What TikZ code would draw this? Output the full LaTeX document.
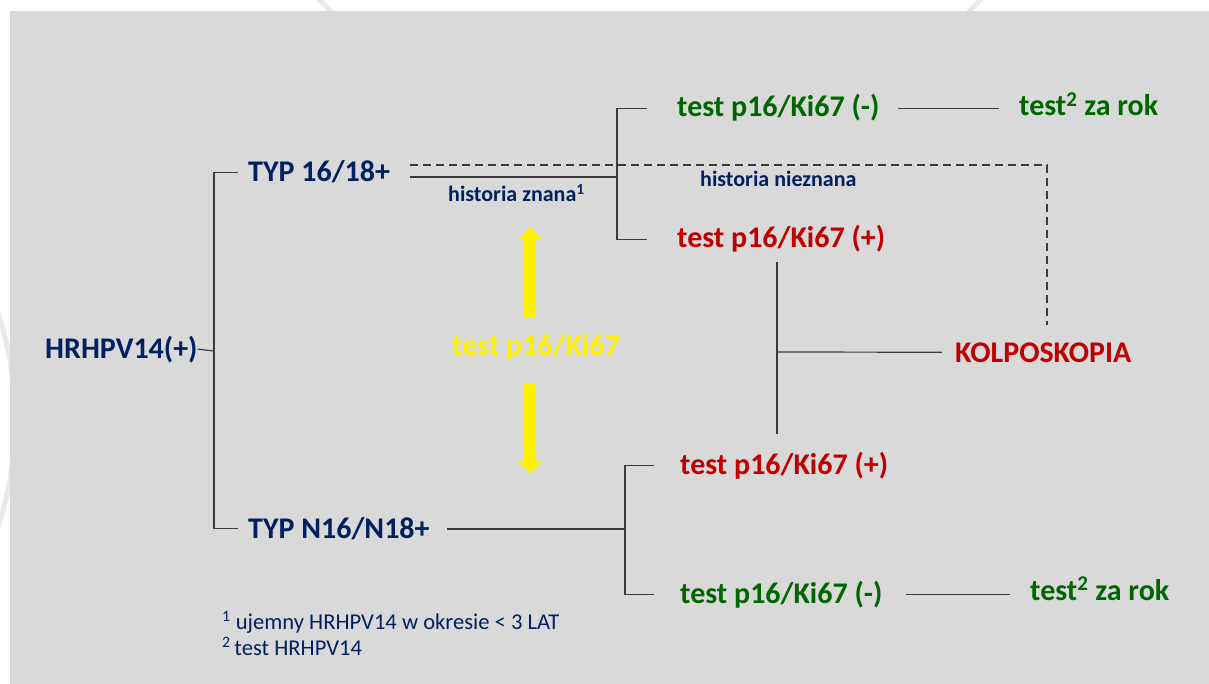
\documentclass[tikz,border=0pt]{standalone}
\usepackage{fontspec}
\setmainfont{Carlito}
\usetikzlibrary{positioning}
\definecolor{bggray}{HTML}{D9D9D9}
\definecolor{swirl}{HTML}{E6EAEF}
\definecolor{navy}{HTML}{002060}
\definecolor{okgreen}{HTML}{006600}
\definecolor{alertred}{HTML}{C00000}
\definecolor{linegray}{HTML}{3A3A3A}
\tikzset{
  big/.style={inner sep=0pt, anchor=base west, font=\fontsize{30}{36}\selectfont\bfseries},
  small/.style={inner sep=0pt, anchor=base west, font=\fontsize{22}{26}\selectfont\bfseries, text=navy},
  note/.style={inner sep=0pt, anchor=base west, font=\fontsize{22.6}{27}\selectfont, text=navy},
  conn/.style={draw=linegray, line width=1.2pt},
  dashline/.style={draw=linegray, line width=1.2pt, dash pattern=on 8pt off 5pt},
}
\begin{document}
\begin{tikzpicture}[x=1pt, y=-1pt]
\useasboundingbox (0,0) rectangle (1209,684);
% background
\draw[swirl, line width=5pt] (650,-300) circle (446);
\draw[swirl, line width=5pt] (-330,420) circle (345);
\fill[bggray] (10,11) rectangle (1209,684);
% texts
\node[big, text=navy] (hr) at (45,358) {HRHPV14(+)};
\node[big, text=navy] (typa) at (248,182) {TYP 16/18+};
\node[big, text=navy] (typb) at (248,538) {TYP N16/N18+};
\node[big, text=okgreen] (tan) at (677,117) {test p16/Ki67 (-)};
\node[big, text=alertred] (tap) at (677,248) {test p16/Ki67 (+)};
\node[big, text=alertred] (tbp) at (680,474) {test p16/Ki67 (+)};
\node[big, text=okgreen] (tbn) at (680,603) {test p16/Ki67 (-)};
\node[big, text=okgreen] (yra) at (1019,116) {test\textsuperscript{2} za rok};
\node[big, text=okgreen] (yrb) at (1030,600) {test\textsuperscript{2} za rok};
\node[big, text=alertred] (kolpo) at (955,362) {KOLPOSKOPIA};
\node[big, text=yellow] (ptest) at (452,355) {test p16/Ki67};
\node[small] (hzn) at (448,202) {historia znana\textsuperscript{1}};
\node[small] (hnz) at (700,187) {historia nieznana};
\node[note] (fna) at (222,629) {\textsuperscript{1} ujemny HRHPV14 w okresie < 3 LAT};
\node[note] (fnb) at (222,655) {\textsuperscript{2}\,test HRHPV14};
% junctions
\coordinate (ja) at (214,351);
\coordinate (sa) at (410,177);
\coordinate (jb) at (617,177);
\coordinate (jc) at (625,529);
\coordinate (kv) at (777,352);
\coordinate (da) at (410,165);
\coordinate (db) at (1047,165);
\coordinate (dc) at (1047,325);
% connectors
\draw[conn] (hr.east) -- (ja);
\draw[conn] ([xshift=-10pt]typa.west) -| (ja) |- ([xshift=-10pt]typb.west);
\draw[conn] (sa) -- (jb);
\draw[conn] ([xshift=-30pt]tan.west) -| (jb) |- ([xshift=-30pt]tap.west);
\draw[dashline] (da) -- (db) -- (dc);
\draw[conn, shorten <=17pt] (jc -| typb.east) -- (jc);
\draw[conn] ([xshift=-26pt]tbp.west) -| (jc) |- ([xshift=-26pt]tbn.west);
\draw[conn, shorten <=18pt, shorten >=20pt] (tan.east) -- (tan.east -| yra.west);
\draw[conn, shorten <=23pt, shorten >=20pt] (tbn.east) -- (tbn.east -| yrb.west);
\draw[conn, shorten <=9pt, shorten >=18pt] (kv |- tap.south) -- (kv |- tbp.north);
\draw[conn, shorten >=13pt] (kv) -- (kolpo.west);
% yellow arrows
\fill[yellow] (523,317) -- (523,240) -- (518,240) -- (530,227) -- (542,240) -- (536,240) -- (536,317) -- cycle;
\fill[yellow] (523,384) -- (523,462) -- (518,462) -- (530,473) -- (542,462) -- (536,462) -- (536,384) -- cycle;
\end{tikzpicture}
\end{document}
